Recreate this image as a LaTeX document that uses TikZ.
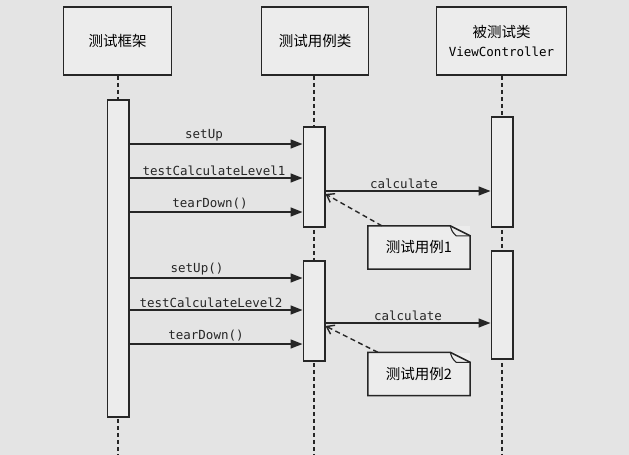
\documentclass[tikz,border=0pt]{standalone}
\usepackage{fontspec}
\setmonofont{DejaVu Sans Mono}
\newfontfamily\cjk{Noto Sans CJK SC}
\usetikzlibrary{arrows.meta,calc}
\definecolor{bg}{RGB}{228,228,228}
\definecolor{boxfill}{RGB}{236,236,236}
\definecolor{ink}{RGB}{38,38,38}
\tikzset{
  objbox/.style={draw=ink, line width=1.5pt, fill=boxfill, minimum height=68pt, align=center, inner sep=0pt, font=\cjk\fontsize{14.5}{18}\selectfont},
  actbar/.style={draw=ink, line width=1.5pt, fill=boxfill, minimum width=21.5pt, inner sep=0pt},
  lifeline/.style={draw=ink, line width=2pt, dash pattern=on 4pt off 3pt},
  msg/.style={draw=ink, line width=1.6pt, -{Triangle[length=12pt,width=9pt]}},
  notelink/.style={draw=ink, line width=1.4pt, dash pattern=on 5pt off 3.5pt, -{Straight Barb[length=7pt,width=10pt]}},
  notebox/.style={fill=boxfill, minimum width=102pt, minimum height=43pt, inner sep=0pt, font=\cjk\fontsize{14.5}{18}\selectfont},
  noteedge/.style={draw=ink, line width=1.5pt},
  lbl/.style={font=\ttfamily\fontsize{12.5}{14}\selectfont, inner sep=2pt, text=ink},
}
\begin{document}
\begin{tikzpicture}[x=1pt,y=-1pt]
\fill[bg] (0,0) rectangle (629,455);
\useasboundingbox (0,0) rectangle (629,455);

% object boxes
\node[objbox, minimum width=108pt] (fw) at (117.5,41) {测试框架};
\node[objbox, minimum width=107pt] (tc) at (315,41) {测试用例类};
\node[objbox, minimum width=130pt] (vc) at (501.5,41) {被测试类\\[1pt]{\ttfamily\fontsize{12.5}{14}\selectfont ViewController}};

% lifeline ends
\coordinate (fwend) at (118,455);
\coordinate (tcend) at (314,455);
\coordinate (vcend) at (502,455);

\draw[lifeline] (fw.south -| fwend) -- (fwend);
\draw[lifeline] (tc.south -| tcend) -- (tcend);
\draw[lifeline] (vc.south -| vcend) -- (vcend);

% activation bars
\node[actbar, minimum height=317pt] (a1) at (118,258.5) {};
\node[actbar, minimum height=100pt] (a2) at (314,177) {};
\node[actbar, minimum height=100pt] (a2b) at (314,311) {};
\node[actbar, minimum height=110pt] (a3) at (502,172) {};
\node[actbar, minimum height=108pt] (a3b) at (502,305) {};

% messages, first test
\draw[msg] (a1.east |- 0,144) -- node[lbl, above, xshift=-12pt] {setUp} (a2.west |- 0,144);
\draw[msg] (a1.east |- 0,178) -- node[lbl, above, xshift=-2pt] {testCalculateLevel1} (a2.west |- 0,178);
\draw[msg] (a1.east |- 0,212) -- node[lbl, above, xshift=-6pt] {tearDown()} (a2.west |- 0,212);
\draw[msg] (a2.east |- 0,191) -- node[lbl, above, xshift=-4pt] {calculate} (a3.west |- 0,191);

% messages, second test
\draw[msg] (a1.east |- 0,278) -- node[lbl, above, xshift=-19pt] {setUp()} (a2b.west |- 0,278);
\draw[msg] (a1.east |- 0,310) -- node[lbl, above, xshift=-5pt] {testCalculateLevel2} (a2b.west |- 0,310);
\draw[msg] (a1.east |- 0,344) -- node[lbl, above, xshift=-10pt] {tearDown()} (a2b.west |- 0,344);
\draw[msg] (a2b.east |- 0,323) -- node[lbl, above] {calculate} (a3b.west |- 0,323);

% notes
\node[notebox] (n1) at (419,247.5) {测试用例1};
\draw[noteedge] (n1.south west) -- (n1.north west) -- ($(n1.north east)+(-20,0)$) -- ($(n1.north east)+(0,10)$) -- (n1.south east) -- cycle;
\draw[ink, line width=1.1pt] ($(n1.north east)+(-20,0)$) .. controls ($(n1.north east)+(-18,6)$) .. ($(n1.north east)+(-14,10)$) -- ($(n1.north east)+(0,10)$);
\node[notebox] (n2) at (419,374) {测试用例2};
\draw[noteedge] (n2.south west) -- (n2.north west) -- ($(n2.north east)+(-20,0)$) -- ($(n2.north east)+(0,10)$) -- (n2.south east) -- cycle;
\draw[ink, line width=1.1pt] ($(n2.north east)+(-20,0)$) .. controls ($(n2.north east)+(-18,6)$) .. ($(n2.north east)+(-14,10)$) -- ($(n2.north east)+(0,10)$);

\draw[notelink] ($(n1.north west)+(14,0)$) -- (a2.east |- 0,194);
\draw[notelink] ($(n2.north west)+(10,0)$) -- (a2b.east |- 0,326);
\end{tikzpicture}
\end{document}
